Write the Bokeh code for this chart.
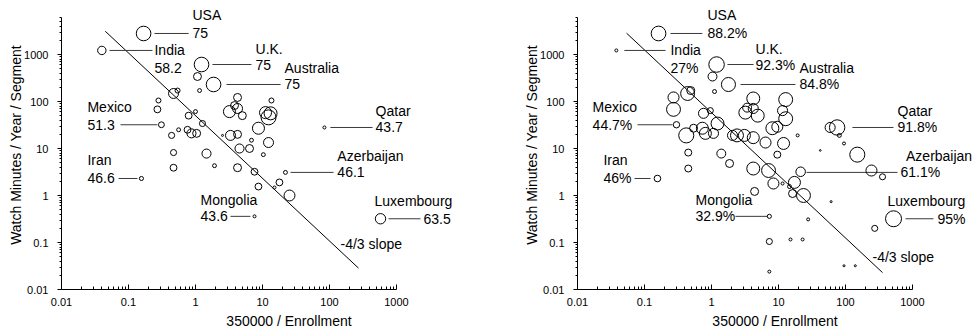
import numpy as np
from bokeh.plotting import figure
from bokeh.layouts import row
from bokeh.models import Range1d, FixedTicker, Label
from bokeh.embed import file_html
from bokeh.resources import INLINE

# ---------------- data ----------------
tick_values = [0.01, 0.1, 1, 10, 100, 1000]
tick_labels = ["0.01", "0.1", "1", "10", "100", "1000"]
x_title = "350000 / Enrollment"
y_title = "Watch Minutes / Year / Segment"

# left panel: x = 350000/enrollment, y = watch minutes, score (bubble size)
left_ratio = [0.168, 0.040, 1.23, 1.07, 1.15, 1.86, 0.47, 0.54, 0.28, 0.27,
              0.31, 0.79, 1.0, 1.27, 0.44, 0.56, 0.76, 0.87, 1.04, 0.47,
              1.46, 1.92, 0.47, 0.156, 4.24, 3.82, 3.21, 4.24, 5.0, 13.6,
              11.1, 12.3, 13.2, 8.7, 3.33, 4.24, 2.53, 4.54, 6.4, 6.85,
              12.3, 10.3, 4.24, 7.6, 22, 8.7, 15.1, 17.9, 25.3, 7.6,
              577, 84]
left_minutes = [2800, 1220, 612, 340, 171, 230, 148, 171, 105, 68,
                32, 50, 61, 34, 19, 25, 25, 21, 21, 8.2,
                7.8, 4.3, 3.9, 2.3, 122, 82, 61, 71, 50, 105,
                58, 46, 56, 27, 19, 20, 19, 10, 10, 15,
                13.4, 7.4, 3.9, 3.2, 3.1, 1.55, 1.48, 1.9, 1.0, 0.36,
                0.32, 28]
left_score = [75, 58.2, 75, 57, 46, 75, 62.5, 49, 49, 54,
              51.3, 54, 46, 52, 52, 46, 54, 60, 57, 52,
              60, 46, 54, 46.6, 57, 57, 68, 62.5, 57, 49,
              68, 76, 70.6, 68, 62.5, 57, 40.9, 60, 57, 46,
              62.5, 46, 57, 54, 46.1, 54, 43.6, 54, 65, 43.6,
              63.5, 43.7]

# right panel: same axes, bubble size = percentage
right_ratio = [0.162, 0.038, 1.19, 1.035, 1.11, 1.79, 0.49, 0.44, 0.271, 0.271,
               0.30, 0.76, 0.96, 1.23, 0.42, 0.54, 0.73, 0.81, 1.07, 2.06,
               0.45, 1.40, 1.86, 0.45, 0.156, 4.2, 3.4, 3.2, 4.9, 4.2,
               12.8, 11.5, 12.8, 8.1, 9.6, 19.3, 2.4, 3.1, 4.2, 6.4,
               11.9, 42, 9.6, 75, 59, 81, 95, 150, 21.4, 244,
               357, 4.2, 7.1, 8.4, 11.5, 14.6, 17.3, 16.2, 23.6, 4.4,
               61, 27.7, 273, 7.3, 7.3, 15.1, 22.9, 7.3, 95, 140,
               521]
right_minutes = [2800, 1220, 612, 340, 163, 230, 171, 148, 122, 68,
                 32, 56, 64, 34, 19, 27, 27, 21, 21, 19,
                 8.2, 7.8, 4.8, 3.75, 2.3, 116, 74, 58, 50, 71,
                 110, 64, 43, 27, 29, 19, 19, 19, 17, 13.4,
                 12.8, 9.1, 7.4, 28, 28, 19, 12.8, 7.4, 3.2, 3.4,
                 2.5, 3.75, 3.4, 1.8, 1.8, 1.55, 1.9, 1.1, 1.0, 1.22,
                 0.74, 0.31, 0.2, 0.36, 0.105, 0.116, 0.116, 0.024, 0.032, 0.032,
                 0.32]
right_pct = [88.2, 27, 92.3, 58, 32, 84.8, 53, 84, 69, 84,
             44.7, 64, 43, 79, 90, 53, 74, 74, 64, 64,
             48, 58, 53, 48, 46, 79, 58, 79, 79, 64,
             84, 64, 84, 79, 69, 27, 79, 74, 74, 69,
             74, 20, 48, 91.8, 64, 32, 27, 90, 61.1, 69,
             43, 79, 84, 69, 27, 32, 74, 53, 84, 53,
             22, 27, 43, 32.9, 43, 27, 27, 27, 22, 22,
             95]

# labelled countries
label_names = ["USA", "India", "U.K.", "Australia", "Mexico", "Iran",
               "Mongolia", "Azerbaijan", "Luxembourg", "Qatar"]
left_values = ["75", "58.2", "75", "75", "51.3", "46.6", "43.6", "46.1", "63.5", "43.7"]
right_values = ["88.2%", "27%", "92.3%", "84.8%", "44.7%", "46%", "32.9%", "61.1%", "95%", "91.8%"]
slope_text = "-4/3 slope"

# ---------------- annotation layout (data coordinates) ----------------
# (name_x, name_y, value_x, value_y, line_x0, line_x1, line_y)
left_layout = [
    (0.90, 6760, 0.90, 2800, 0.244, 0.79, 2800),
    (0.244, 1220, 0.244, 504, 0.052, 0.228, 1220),
    (7.87, 1340, 7.87, 612, 1.79, 6.85, 612),
    (21.3, 528, 21.3, 230, 2.9, 18.6, 230),
    (0.0244, 78, 0.0244, 32, 0.076, 0.27, 32),
    (0.0244, 5.6, 0.0244, 2.3, 0.071, 0.136, 2.3),
    (1.19, 0.82, 1.19, 0.36, 3.33, 6.6, 0.36),
    (131, 6.8, 131, 3.1, 26.2, 115, 3.1),
    (470, 0.78, 2530, 0.32, 760, 2280, 0.32),
    (487, 64, 487, 28, 103, 439, 28),
]
right_layout = [
    (0.87, 6760, 0.87, 2800, 0.244, 0.73, 2800),
    (0.244, 1220, 0.244, 504, 0.050, 0.206, 1220),
    (4.54, 1340, 4.54, 612, 1.73, 4.24, 612),
    (20.6, 528, 20.6, 230, 2.71, 17.9, 230),
    (0.0168, 78, 0.0168, 32, 0.0787, 0.262, 32),
    (0.0244, 5.6, 0.0244, 2.3, 0.071, 0.123, 2.3),
    (0.577, 0.82, 0.577, 0.36, 2.28, 6.85, 0.36),
    (800, 6.9, 662, 3.1, 26.2, 597, 3.1),
    (424, 0.78, 2360, 0.32, 787, 2056, 0.32),
    (597, 64, 597, 28, 127, 520, 28),
]

FONT = "Liberation Sans"
PX_X = 67.0   # pixels per decade, x
PX_Y = 47.0   # pixels per decade, y
BORDER_L = 61
BORDER_B = 45
FRAME_H = 289


def minor_list(lo_exp, hi_exp, top=None):
    out = []
    for e in range(lo_exp, hi_exp + 1):
        for k in range(2, 10):
            v = k * 10.0 ** e
            if top is None or v <= top:
                out.append(v)
    return out


def make_panel(frame_w, xs, ys, vals, size_fn, layout, values, slope_c, slope_x, slope_lbl):
    x_end = 10 ** (-2 + frame_w / PX_X)
    y_end = 10 ** (-2 + FRAME_H / PX_Y)
    p = figure(frame_width=frame_w, frame_height=FRAME_H,
               x_axis_type="log", y_axis_type="log",
               x_range=Range1d(0.01, x_end), y_range=Range1d(0.01, y_end),
               output_backend="svg", toolbar_location=None,
               min_border_left=BORDER_L, min_border_right=0,
               min_border_top=0, min_border_bottom=BORDER_B)
    p.outline_line_color = None
    p.xgrid.visible = False
    p.ygrid.visible = False

    overrides = {float(v): t for v, t in zip(tick_values, tick_labels)}
    xa = p.xaxis[0]
    ya = p.yaxis[0]
    xa.ticker = FixedTicker(ticks=[float(v) for v in tick_values], minor_ticks=minor_list(-2, 2))
    ya.ticker = FixedTicker(ticks=[float(v) for v in tick_values], minor_ticks=minor_list(-2, 3, top=6000))
    xa.bounds = (0.01, 1000)
    ya.bounds = (0.01, 6000)
    for ax in (xa, ya):
        ax.major_label_overrides = overrides
        ax.axis_line_color = "black"
        ax.major_tick_line_color = "black"
        ax.minor_tick_line_color = "black"
        ax.major_label_text_font = FONT
        ax.major_label_text_font_size = "11px"
        ax.major_label_text_color = "black"
        ax.axis_label_text_font = FONT
        ax.axis_label_text_font_size = "14px"
        ax.axis_label_text_font_style = "normal"
        ax.axis_label_text_color = "black"
    xa.axis_label = x_title
    ya.axis_label = y_title
    xa.major_tick_in = 5
    xa.major_tick_out = 0
    xa.minor_tick_in = 3
    xa.minor_tick_out = 0
    xa.major_label_standoff = 8
    xa.axis_label_standoff = 4
    ya.major_tick_in = 0
    ya.major_tick_out = 4
    ya.minor_tick_in = 0
    ya.minor_tick_out = 2
    ya.major_label_standoff = 9
    ya.axis_label_standoff = -3

    # slope reference line
    sx = np.array(slope_x)
    sy = slope_c * sx ** (-4.0 / 3.0)
    p.line(sx, sy, line_color="black", line_width=1)

    # leader lines
    p.segment(x0=[l[4] for l in layout], y0=[l[6] for l in layout],
              x1=[l[5] for l in layout], y1=[l[6] for l in layout],
              line_color="#3a3a3a", line_width=1)

    # bubbles
    sizes = [size_fn(v) for v in vals]
    p.scatter(xs, ys, size=sizes, marker="circle", fill_color=None,
              line_color="black", line_width=1)

    for name, val, l in zip(label_names, values, layout):
        for txt, x, y in ((name, l[0], l[1]), (val, l[2], l[3])):
            p.add_layout(Label(x=x, y=y, text=txt, text_font=FONT, text_font_size="14px",
                               text_color="black", text_align="left", text_baseline="middle"))
    p.add_layout(Label(x=slope_lbl[0], y=slope_lbl[1], text=slope_text, text_font=FONT,
                       text_font_size="14px", text_color="black", text_align="left",
                       text_baseline="middle"))
    return p


left = make_panel(455, left_ratio, left_minutes, left_score,
                  lambda s: max(1.6, 2 * (s - 35.5) * 0.185),
                  left_layout, left_values, 50.0, [0.045, 271], (146, 0.091))
right = make_panel(395, right_ratio, right_minutes, right_pct,
                   lambda s: max(1.6, 2 * (s - 11.3) * 0.0956),
                   right_layout, right_values, 58.0, [0.054, 357], (253, 0.048))

layout = row(left, right)
open("out.html", "w").write(file_html(layout, INLINE))
